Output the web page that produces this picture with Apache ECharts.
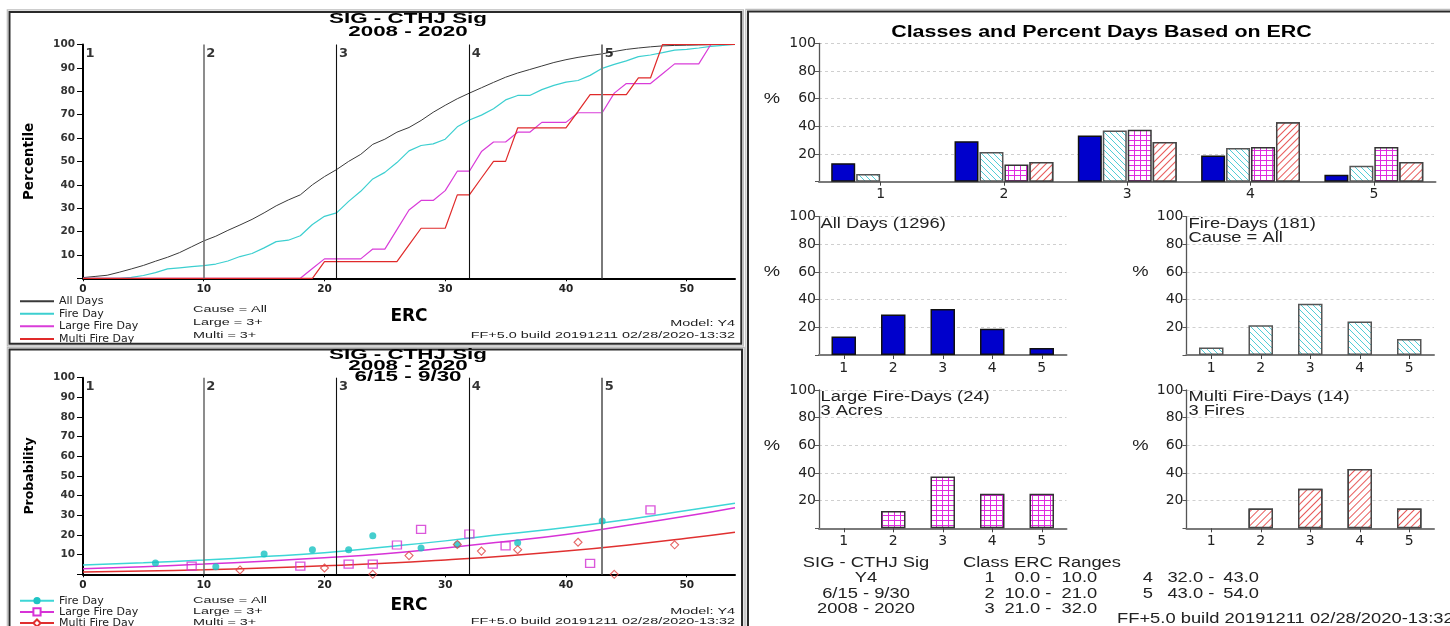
<!DOCTYPE html>
<html><head><meta charset="utf-8">
<script src="https://cdn.jsdelivr.net/npm/echarts@6/dist/echarts.min.js"></script>
<style>
html,body{margin:0;padding:0;background:#fff;}
#wrap{position:relative;width:1450px;height:626px;overflow:hidden;background:#fff;}
.c{position:absolute;left:0;top:0;width:1450px;height:700px;}
</style></head><body>
<div id="wrap"><div id="cTop" class="c"></div><div id="cBot" class="c"></div><div id="cRight" class="c"></div></div>
<script>
// ---------------- DATA ----------------
const siteName = 'SIG - CTHJ Sig';
const modelName = 'Y4';
const seasonRange = '6/15 - 9/30';
const yearRange = '2008 - 2020';
const buildStamp = 'FF+5.0 build 20191211 02/28/2020-13:32';

const classBounds = [0, 10, 21, 32, 43, 54];
const classLabels = ['1', '2', '3', '4', '5'];

// cumulative percentile vs ERC (top-left)
const ercPoints = [0,1,2,3,4,5,6,7,8,9,10,11,12,13,14,15,16,17,18,19,20,21,22,23,24,25,26,27,28,29,30,31,32,33,34,35,36,37,38,39,40,41,42,43,44,45,46,47,48,49,50,51,52,53,54];
const allDaysPct = [0.3,0.8,1.3,2.6,4.0,5.5,7.3,9.0,11.0,13.5,16.0,18.0,20.5,22.8,25.2,28.0,31.0,33.5,35.7,40.0,43.5,46.5,50.0,53.0,57.3,59.5,62.5,64.5,67.5,71.0,74.0,76.8,79.2,81.5,83.8,86.0,87.8,89.3,90.8,92.3,93.5,94.5,95.3,96.0,97.0,97.9,98.5,99.0,99.4,99.6,99.7,99.8,99.9,100,100];
const fireDayPct = [0,0,0,0,0.4,1.2,2.4,4.0,4.5,5.0,5.4,6.1,7.4,9.3,10.6,13.0,15.7,16.3,18.2,23.0,26.5,28.0,32.9,37.2,42.5,45.3,49.5,54.5,56.8,57.5,59.5,64.8,67.7,69.8,72.5,76.3,78.2,78.2,80.7,82.5,83.9,84.6,86.8,89.8,91.5,93.0,94.8,95.5,96.5,97.6,97.9,98.5,99.2,99.6,100];
const largeFireDayPct = [0,0,0,0,0,0,0,0,0,0,0,0,0,0,0,0,0,0,0,4.2,8.3,8.3,8.3,8.3,12.5,12.5,20.8,29.2,33.3,33.3,37.5,45.8,45.8,54.2,58.3,58.3,62.5,62.5,66.7,66.7,66.7,70.8,70.8,70.8,79.2,83.3,83.3,83.3,87.5,91.7,91.7,91.7,100,100,100];
const multiFireDayPct = [0,0,0,0,0,0,0,0,0,0,0,0,0,0,0,0,0,0,0,0,7.1,7.1,7.1,7.1,7.1,7.1,7.1,14.3,21.4,21.4,21.4,35.7,35.7,42.9,50.0,50.0,64.3,64.3,64.3,64.3,64.3,71.4,78.6,78.6,78.6,78.6,85.7,85.7,100,100,100,100,100,100,100];

// probability vs ERC (bottom-left) observed points
const fireObsErc  = [6, 11, 15, 19, 22, 24, 28, 31, 36, 43];
const fireObsProb = [5.7, 3.9, 10.3, 12.5, 12.5, 19.6, 13.4, 15.2, 16.1, 27.1];
const largeObsErc  = [9, 18, 22, 24, 26, 28, 32, 35, 42, 47];
const largeObsProb = [4.2, 4.2, 5.2, 5.2, 14.9, 22.9, 20.5, 14.5, 5.6, 32.8];
const multiObsErc  = [13, 20, 24, 27, 31, 33, 36, 41, 44, 49];
const multiObsProb = [2.2, 3.2, 0, 9.5, 15.2, 11.8, 12.5, 16.3, 0, 15.0];
// fitted curves
const trendErc   = [0, 5, 10, 15, 20, 25, 30, 35, 40, 45, 50, 54];
const fireTrend  = [4.7, 5.9, 7.3, 9.0, 11.0, 13.9, 17.0, 20.5, 23.8, 27.8, 32.4, 36.1];
const largeTrend = [2.8, 3.9, 5.2, 6.7, 8.4, 10.5, 13.4, 16.7, 20.3, 24.8, 29.6, 33.9];
const multiTrend = [1.2, 1.7, 2.3, 3.2, 4.3, 5.6, 7.3, 9.3, 11.8, 14.8, 18.3, 21.4];

// class percentages (right)
const barClasses = ['1', '2', '3', '4', '5'];
const allDaysClassPct   = [13.4, 29.3, 33.3, 18.9, 5.1];
const fireDaysClassPct  = [5.5, 21.5, 37.0, 24.3, 11.6];
const largeDaysClassPct = [0, 12.5, 37.5, 25.0, 25.0];
const multiDaysClassPct = [0, 14.3, 28.6, 42.9, 14.3];
const allDaysCount = 1296, fireDaysCount = 181, largeDaysCount = 24, multiDaysCount = 14;

// ---------------- HELPERS ----------------
const fontD = 'DejaVu Sans';
const LS = '"Liberation Sans", Arial, sans-serif';
const zip = (xs, ys) => xs.map((x, i) => [x, ys[i]]);
function txt(x, y, text, font, align, sx, fill) {
  align = align || 'left';
  return { type: 'text', x: x, y: y, scaleX: sx || 1, silent: true, z: 100,
    style: { text: text, font: font, fill: fill || '#111', align: align, verticalAlign: 'middle',
      textAlign: align, textVerticalAlign: 'middle' } };
}
function frame(x, y, w, h) {
  return [
    { type: 'rect', silent: true, z: 90, shape: { x: x - 2.2, y: y - 2.2, width: w + 4.4, height: h + 4.4 }, style: { fill: 'none', stroke: '#bdbdbd', lineWidth: 1.2 } },
    { type: 'rect', silent: true, z: 91, shape: { x: x, y: y, width: w, height: h }, style: { fill: 'none', stroke: '#2a2a2a', lineWidth: 2 } }
  ];
}
const classLineStyles = [
  { type: 'solid', color: '#707070', width: 1.6 },
  { type: 'solid', color: '#111', width: 1.1 },
  { type: 'solid', color: '#111', width: 1.1 },
  { type: 'solid', color: '#7a7a7a', width: 2 }
];
function classMarkLine() {
  return { silent: true, symbol: ['none', 'none'], label: { show: false }, animation: false,
    lineStyle: { type: 'solid' },
    data: classBounds.slice(1, classLabels.length).map((b, i) => [
      { coord: [b, 0], lineStyle: classLineStyles[i] }, { coord: [b, 100] }]) };
}
function classLabelSeries() {
  return { type: 'scatter', name: 'classes', silent: true, clip: false, symbolSize: 0, z: 5,
    data: classBounds.slice(0, classLabels.length).map(b => [b, 100]),
    label: { show: true, formatter: p => classLabels[p.dataIndex], position: [2.5, 2.5],
      align: 'left', verticalAlign: 'top', fontFamily: fontD, fontWeight: 'bold', fontSize: 13, color: '#000' } };
}
function leftXAxis(nameGap) {
  return { type: 'value', min: 0, max: 54, interval: 10,
    axisLine: { lineStyle: { color: '#000', width: 2 } },
    axisTick: { show: true, length: 3, lineStyle: { color: '#000', width: 1 } },
    axisLabel: { color: '#222', fontSize: 10.5, fontWeight: 'bold', fontFamily: fontD, margin: 5, showMaxLabel: false },
    splitLine: { show: false },
    name: 'ERC', nameLocation: 'middle', nameGap: nameGap, nameMoveOverlap: false,
    nameTextStyle: { fontFamily: fontD, fontWeight: 'bold', fontSize: 17, color: '#000' } };
}
function leftYAxis(name, nameSize) {
  return { type: 'value', min: 0, max: 100, interval: 10,
    axisLine: { show: true, lineStyle: { color: '#000', width: 2 } },
    axisTick: { show: true, length: 6, lineStyle: { color: '#000', width: 1 } },
    axisLabel: { formatter: v => v === 0 ? '' : String(v), color: '#333', fontSize: 10.5, fontWeight: 'bold', fontFamily: fontD, margin: 8 },
    splitLine: { show: false },
    name: name, nameLocation: 'middle', nameGap: 47, nameMoveOverlap: false,
    nameTextStyle: { fontFamily: fontD, fontWeight: 'bold', fontSize: nameSize, color: '#000' } };
}
const col = { all: '#3a3a3a', fire: '#3ccfd0', large: '#d93cd9', multi: '#e02a2a' };

// ---------------- TOP-LEFT ----------------
const cTop = echarts.init(document.getElementById('cTop'));
cTop.setOption({
  animation: false,
  textStyle: { fontFamily: fontD },
  grid: { left: 83, top: 44.5, width: 652, height: 233.8 },
  legend: { data: ['All Days', 'Fire Day', 'Large Fire Day', 'Multi Fire Day'], orient: 'vertical', left: 19, top: 295, height: 80,
    itemWidth: 34, itemHeight: 1, itemGap: 0.3, padding: 0, selectedMode: false,
    textStyle: { fontFamily: fontD, fontSize: 11, color: '#222', lineHeight: 12.3 } },
  xAxis: leftXAxis(30),
  yAxis: leftYAxis('Percentile', 13.5),
  series: [
    { type: 'line', name: 'All Days', data: zip(ercPoints, allDaysPct), symbol: 'none', clip: false,
      lineStyle: { color: col.all, width: 1 }, itemStyle: { color: col.all }, markLine: classMarkLine(), z: 3 },
    { type: 'line', name: 'Fire Day', data: zip(ercPoints, fireDayPct), symbol: 'none', clip: false,
      lineStyle: { color: col.fire, width: 1.2 }, itemStyle: { color: col.fire }, z: 3 },
    { type: 'line', name: 'Large Fire Day', data: zip(ercPoints, largeFireDayPct), symbol: 'none', clip: false,
      lineStyle: { color: col.large, width: 1.2 }, itemStyle: { color: col.large }, z: 3 },
    { type: 'line', name: 'Multi Fire Day', data: zip(ercPoints, multiFireDayPct), symbol: 'none', clip: false,
      lineStyle: { color: col.multi, width: 1.2 }, itemStyle: { color: col.multi }, z: 3 },
    classLabelSeries()
  ],
  graphic: [].concat(frame(9.5, 12, 731.8, 331.7), [
    txt(408, 19, siteName, 'bold 14px ' + LS, 'center', 1.6, '#000'),
    txt(408, 32, yearRange, 'bold 14px ' + LS, 'center', 1.6, '#000'),
    txt(193, 309.5, 'Cause = All', '9px ' + LS, 'left', 1.6, '#222'),
    txt(193, 322.7, 'Large = 3+', '9px ' + LS, 'left', 1.6, '#222'),
    txt(193, 335.7, 'Multi = 3+', '9px ' + LS, 'left', 1.6, '#222'),
    txt(735, 323.3, 'Model: ' + modelName, '9px ' + LS, 'right', 1.6, '#222'),
    txt(735, 335.7, buildStamp, '9px ' + LS, 'right', 1.6, '#222')
  ])
});

// ---------------- BOTTOM-LEFT ----------------
const cBot = echarts.init(document.getElementById('cBot'));
cBot.setOption({
  animation: false,
  textStyle: { fontFamily: fontD },
  grid: { left: 83, top: 377.7, width: 652, height: 196.6 },
  legend: { data: ['Fire Day', 'Large Fire Day', 'Multi Fire Day'], orient: 'vertical', left: 19, top: 595.1, height: 80,
    itemWidth: 34, itemHeight: 9, itemGap: 0, padding: 0, selectedMode: false,
    textStyle: { fontFamily: fontD, fontSize: 11, color: '#222', lineHeight: 11.2 } },
  xAxis: leftXAxis(23),
  yAxis: leftYAxis('Probability', 12.5),
  series: [
    { type: 'line', name: 'Fire Day', data: zip(trendErc, fireTrend), smooth: true, symbol: 'circle', showSymbol: false, clip: false,
      lineStyle: { color: '#3dd6d6', width: 1.5 }, itemStyle: { color: '#1fc4c4' }, markLine: classMarkLine(), z: 3 },
    { type: 'line', name: 'Large Fire Day', data: zip(trendErc, largeTrend), smooth: true, symbol: 'emptyRect', showSymbol: false, clip: false,
      lineStyle: { color: '#d733d7', width: 1.5 }, itemStyle: { color: '#d733d7' }, z: 3 },
    { type: 'line', name: 'Multi Fire Day', data: zip(trendErc, multiTrend), smooth: true, symbol: 'emptyDiamond', showSymbol: false, clip: false,
      lineStyle: { color: '#e03030', width: 1.5 }, itemStyle: { color: '#e03030' }, z: 3 },
    { type: 'scatter', name: 'Fire Day points', data: zip(fireObsErc, fireObsProb), symbol: 'circle', symbolSize: 7, clip: false,
      itemStyle: { color: '#16c2c2' }, z: 4 },
    { type: 'scatter', name: 'Large Fire Day points', data: zip(largeObsErc, largeObsProb), symbol: 'rect', symbolSize: [9, 8], clip: false,
      itemStyle: { color: 'rgba(255,255,255,0)', borderColor: '#d22ed2', borderWidth: 1.3 }, z: 4 },
    { type: 'scatter', name: 'Multi Fire Day points', data: zip(multiObsErc, multiObsProb), symbol: 'diamond', symbolSize: 8, clip: false,
      itemStyle: { color: 'rgba(255,255,255,0)', borderColor: '#e04040', borderWidth: 1.1 }, z: 4 },
    classLabelSeries()
  ],
  graphic: [].concat(frame(9.5, 349.5, 732.5, 300), [
    txt(408, 355, siteName, 'bold 14px ' + LS, 'center', 1.6, '#000'),
    txt(408, 366.5, yearRange, 'bold 14px ' + LS, 'center', 1.6, '#000'),
    txt(408, 377.5, seasonRange, 'bold 14px ' + LS, 'center', 1.6, '#000'),
    txt(193, 600.7, 'Cause = All', '9px ' + LS, 'left', 1.6, '#222'),
    txt(193, 612, 'Large = 3+', '9px ' + LS, 'left', 1.6, '#222'),
    txt(193, 623, 'Multi = 3+', '9px ' + LS, 'left', 1.6, '#222'),
    txt(735, 611.7, 'Model: ' + modelName, '9px ' + LS, 'right', 1.6, '#222'),
    txt(735, 622, buildStamp, '9px ' + LS, 'right', 1.6, '#222')
  ])
});

// ---------------- RIGHT ----------------
function makePattern(kind, color) {
  const cv = document.createElement('canvas');
  cv.width = 6; cv.height = (kind === 'grid') ? 5 : 6;
  const g = cv.getContext('2d');
  g.fillStyle = '#ffffff'; g.fillRect(0, 0, cv.width, cv.height);
  g.fillStyle = color;
  if (kind === 'back') {
    for (let i = 0; i < 6; i++) g.fillRect(i, i, 1, 1);
  } else {
    g.fillRect(0, 0, 1, cv.height); g.fillRect(0, 0, cv.width, 1);
  }
  return { image: cv, repeat: 'repeat' };
}
const styleAll   = { color: '#0000cc', borderColor: '#111', borderWidth: 1.5 };
const styleFire  = { color: makePattern('back', '#52cdd6'), borderColor: '#555', borderWidth: 1.5 };
const styleLarge = { color: makePattern('grid', '#e02ae0'), borderColor: '#333', borderWidth: 1.5 };
const styleMulti = { color: '#ffffff', borderColor: '#444', borderWidth: 1.5,
  decal: { symbol: 'rect', symbolSize: 1, color: '#e85a5a', backgroundColor: '#ffffff',
    dashArrayX: [1, 0], dashArrayY: [1, 4], rotation: -Math.PI / 4 } };

const rightGrids = [
  { left: 819, top: 43.3, width: 616.5, height: 138.4 },
  { left: 819, top: 216.7, width: 247.5, height: 138.3 },
  { left: 1186.5, top: 216.7, width: 247.5, height: 138.3 },
  { left: 819, top: 390, width: 247.5, height: 138.3 },
  { left: 1186.5, top: 390, width: 247.5, height: 138.3 }
];
const xAx = i => ({ gridIndex: i, type: 'category', data: barClasses,
  axisLine: { lineStyle: { color: '#7a7a7a', width: 2 } },
  axisTick: { show: true, alignWithLabel: true, length: 4, lineStyle: { color: '#444' } },
  axisLabel: { color: '#222', fontSize: 14, fontFamily: fontD, margin: 6 }, splitLine: { show: false } });
const yAx = i => ({ gridIndex: i, type: 'value', min: 0, max: 100, interval: 20,
  axisLine: { show: true, lineStyle: { color: '#555', width: 1.3 } },
  axisTick: { show: true, length: 4, lineStyle: { color: '#555' } },
  axisLabel: { formatter: v => v === 0 ? '' : String(v), color: '#222', fontSize: 14, fontFamily: fontD, margin: 3 },
  splitLine: { show: true, lineStyle: { type: [3, 3], color: '#cfcfcf', width: 1 } } });
// zero-height bars get no outline so nothing is drawn for empty classes
const bar = (gi, name, vals, st, w) => ({ type: 'bar', name: name, xAxisIndex: gi, yAxisIndex: gi,
  data: vals.map(v => v === 0 ? { value: v, itemStyle: { borderWidth: 0, opacity: 0 } } : v),
  barWidth: w, barGap: '4%', itemStyle: st, silent: true });

const R = '14px ' + LS, RS = 1.31;
const rightTexts = [
  txt(1101.5, 33, 'Classes and Percent Days Based on ERC', 'bold 16px ' + LS, 'center', 1.34, '#000'),
  txt(772, 99, '%', R, 'center', RS, '#222'),
  txt(772, 272, '%', R, 'center', RS, '#222'),
  txt(1140.5, 272, '%', R, 'center', RS, '#222'),
  txt(772, 446, '%', R, 'center', RS, '#222'),
  txt(1140.5, 446, '%', R, 'center', RS, '#222'),
  txt(820.5, 224.5, 'All Days (' + allDaysCount + ')', R, 'left', RS, '#222'),
  txt(1188.5, 224, 'Fire-Days (' + fireDaysCount + ')', R, 'left', RS, '#222'),
  txt(1188.5, 238, 'Cause = All', R, 'left', RS, '#222'),
  txt(820.5, 397, 'Large Fire-Days (' + largeDaysCount + ')', R, 'left', RS, '#222'),
  txt(820.5, 411.5, '3 Acres', R, 'left', RS, '#222'),
  txt(1188.5, 397, 'Multi Fire-Days (' + multiDaysCount + ')', R, 'left', RS, '#222'),
  txt(1188.5, 411.5, '3 Fires', R, 'left', RS, '#222'),
  txt(866, 562.7, siteName, R, 'center', RS, '#222'),
  txt(866, 578.3, modelName, R, 'center', RS, '#222'),
  txt(866, 593.8, seasonRange, R, 'center', RS, '#222'),
  txt(866, 609.3, yearRange, R, 'center', RS, '#222'),
  txt(963, 562.7, 'Class ERC Ranges', R, 'left', RS, '#222'),
  txt(1117, 619.5, buildStamp, R, 'left', RS, '#222')
];
const rowY = [578.3, 593.8, 609.3];
const colX = [{ n: 994.6, lo: 1051.3, hi: 1097.3 }, { n: 1153, lo: 1214.3, hi: 1259 }];
classLabels.forEach((lab, i) => {
  const cx = colX[i < 3 ? 0 : 1], y = rowY[i % 3];
  rightTexts.push(txt(cx.n, y, lab, R, 'right', RS, '#222'));
  rightTexts.push(txt(cx.lo, y, classBounds[i].toFixed(1) + ' -', R, 'right', RS, '#222'));
  rightTexts.push(txt(cx.hi, y, classBounds[i + 1].toFixed(1), R, 'right', RS, '#222'));
});
rightTexts.push({ type: 'rect', silent: true, z: 90, shape: { x: 745.8, y: 9.3, width: 720, height: 700 }, style: { fill: 'none', stroke: '#bdbdbd', lineWidth: 1.2 } });
rightTexts.push({ type: 'rect', silent: true, z: 91, shape: { x: 748, y: 11.5, width: 720, height: 700 }, style: { fill: 'none', stroke: '#2a2a2a', lineWidth: 2 } });

const cRight = echarts.init(document.getElementById('cRight'));
cRight.setOption({
  animation: false,
  textStyle: { fontFamily: fontD },
  grid: rightGrids,
  xAxis: [0, 1, 2, 3, 4].map(xAx),
  yAxis: [0, 1, 2, 3, 4].map(yAx),
  series: [
    bar(0, 'All Days', allDaysClassPct, styleAll, 24),
    bar(0, 'Fire-Days', fireDaysClassPct, styleFire, 24),
    bar(0, 'Large Fire-Days', largeDaysClassPct, styleLarge, 24),
    bar(0, 'Multi Fire-Days', multiDaysClassPct, styleMulti, 24),
    bar(1, 'All Days', allDaysClassPct, styleAll, 24.5),
    bar(2, 'Fire-Days', fireDaysClassPct, styleFire, 24.5),
    bar(3, 'Large Fire-Days', largeDaysClassPct, styleLarge, 24.5),
    bar(4, 'Multi Fire-Days', multiDaysClassPct, styleMulti, 24.5)
  ],
  graphic: rightTexts
});
</script>
</body></html>
